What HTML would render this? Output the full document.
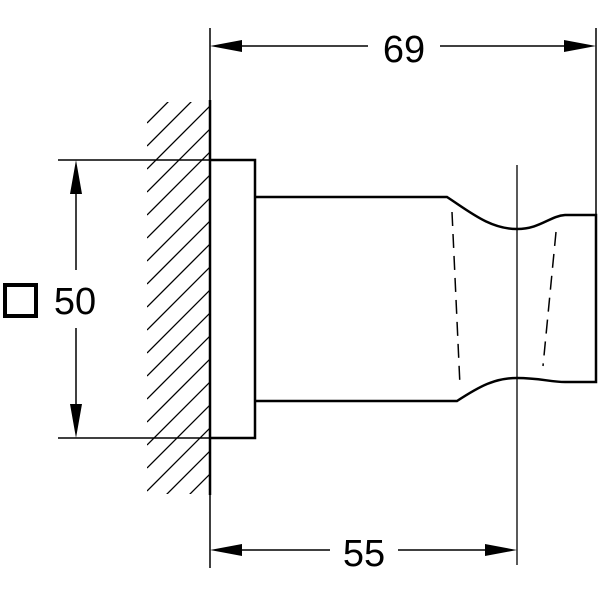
<!DOCTYPE html>
<html><head><style>body{margin:0;background:#fff}</style></head><body>
<svg width="600" height="600" viewBox="0 0 600 600" xmlns="http://www.w3.org/2000/svg">
<defs><clipPath id="h"><rect x="147" y="102" width="63" height="392"/></clipPath></defs>
<g clip-path="url(#h)" stroke="#000" stroke-width="1.3">
<path d="M147 100 l100 -100 M147 123 l100 -100 M147 146 l100 -100 M147 169 l100 -100 M147 192 l100 -100 M147 215 l100 -100 M147 238 l100 -100 M147 261 l100 -100 M147 284 l100 -100 M147 307 l100 -100 M147 330 l100 -100 M147 353 l100 -100 M147 376 l100 -100 M147 399 l100 -100 M147 422 l100 -100 M147 445 l100 -100 M147 468 l100 -100 M147 491 l100 -100 M147 514 l100 -100 M147 537 l100 -100 M147 560 l100 -100"/>
</g>
<g stroke="#000" fill="none">
<line x1="210" y1="28" x2="210" y2="568" stroke-width="1.5"/>
<line x1="210" y1="100" x2="210" y2="495" stroke-width="2.5"/>
<line x1="596" y1="28" x2="596" y2="215" stroke-width="1.5"/>
<line x1="517" y1="165" x2="517" y2="565" stroke-width="1.3"/>
<line x1="58" y1="160" x2="210" y2="160" stroke-width="1.5"/>
<line x1="58" y1="438" x2="210" y2="438" stroke-width="1.5"/>
<line x1="238" y1="46" x2="368" y2="46" stroke-width="1.5"/>
<line x1="440" y1="46" x2="570" y2="46" stroke-width="1.5"/>
<line x1="238" y1="550" x2="330" y2="550" stroke-width="1.5"/>
<line x1="398" y1="550" x2="490" y2="550" stroke-width="1.5"/>
<line x1="76" y1="190" x2="76" y2="270" stroke-width="1.5"/>
<line x1="76" y1="328" x2="76" y2="408" stroke-width="1.5"/>
<path d="M210 160 H255 V438 H210" stroke-width="2.5"/>
<path d="M255 197 H447 C470 212 490 229 517 229 C540 229 550 216 565 215 H596 V382 H565 C550 382 540 378 517 378 C495 378 480 386 457 401 H255" stroke-width="2.5"/>
<path d="M452 212 L460 386 M556 232 L543 366" stroke-width="1.5" stroke-dasharray="14 8"/>
<rect x="5" y="285" width="31" height="31" stroke-width="4"/>
</g>
<g fill="#000">
<path d="M210 46 L242 40 L242 52Z M596 46 L564 40 L564 52Z M210 550 L242 544 L242 556Z M517 550 L485 544 L485 556Z M76 160 L70 194 L82 194Z M76 438 L70 404 L82 404Z"/>
</g>
<g font-family="Liberation Sans, sans-serif" font-size="38" fill="#000" text-anchor="middle">
<text x="404" y="62">69</text>
<text x="364" y="566">55</text>
<text x="75" y="314">50</text>
</g>
</svg>
</body></html>
